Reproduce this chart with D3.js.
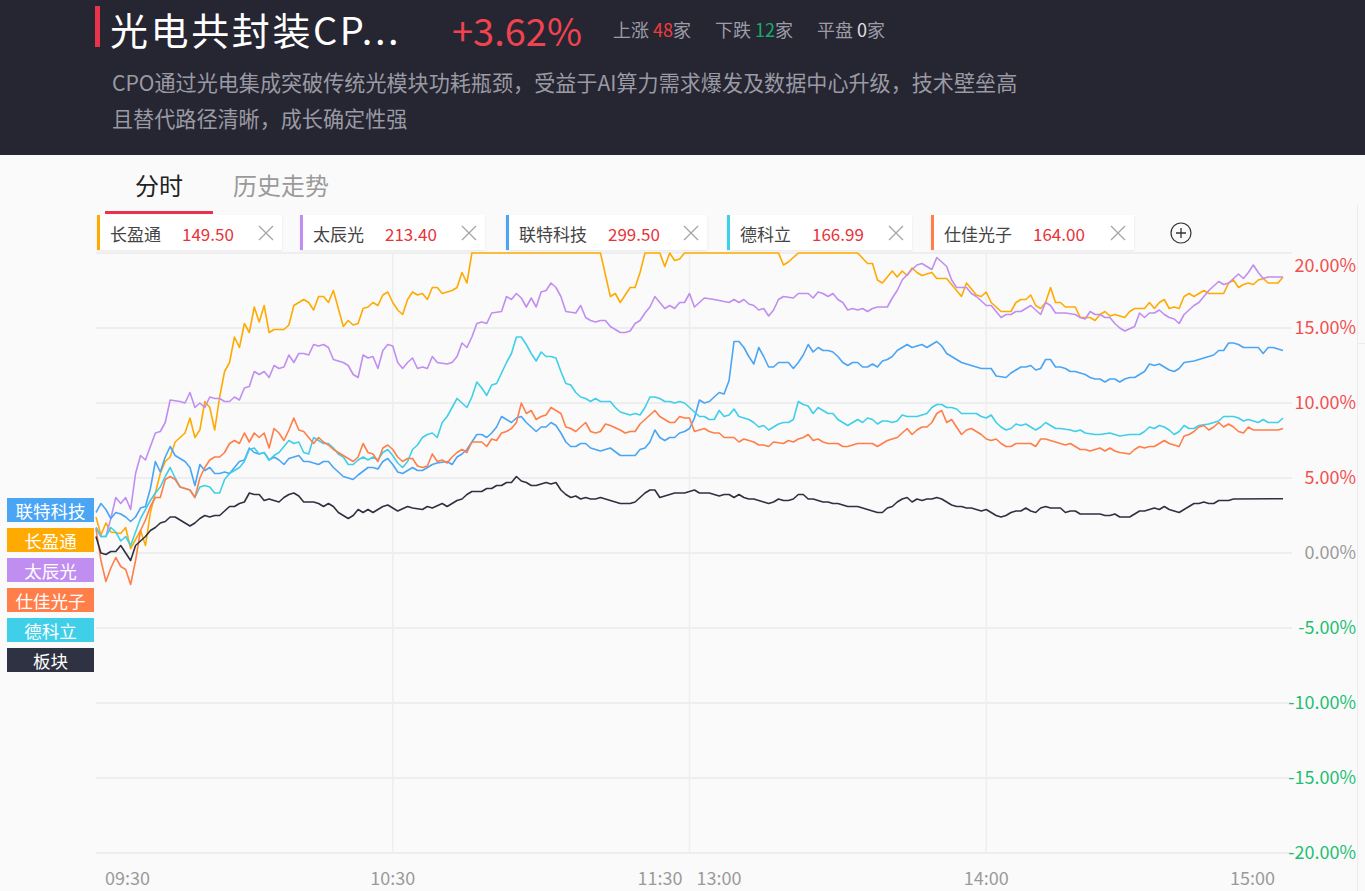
<!DOCTYPE html>
<html><head><meta charset="utf-8">
<script src="https://cdn.jsdelivr.net/npm/d3@7/dist/d3.min.js"></script>
<style>
html,body{margin:0;padding:0;background:#fafafa;}
svg{display:block;font-family:"Noto Sans CJK SC","Noto Sans",sans-serif;}
</style></head><body>
<svg id="c" width="1365" height="891"></svg>
<script>
// ---------- data ----------
const title = "光电共封装CP...";
const changeText = "+3.62%";
const description = ["CPO通过光电集成突破传统光模块功耗瓶颈，受益于AI算力需求爆发及数据中心升级，技术壁垒高","且替代路径清晰，成长确定性强"];
const stats = [["上涨","48","家"],["下跌","12","家"],["平盘","0","家"]];
const tabs = ["分时","历史走势"];
const legendNames = ["长盈通","太辰光","联特科技","德科立","仕佳光子"];
const legendPrices = ["149.50","213.40","299.50","166.99","164.00"];
const sideLabels = ["联特科技","长盈通","太辰光","仕佳光子","德科立","板块"];
const timeLabels = ["09:30","10:30","11:30","13:00","14:00","15:00"];
const timeMinutes = [0,60,120,120,180,240];
const yTicks = [-20,-15,-10,-5,0,5,10,15,20];

// series: [minute index from 09:30 (lunch removed), pct change]
const cyt = [[0,2.4],[1,1.2],[2,2.0],[3,1.4],[5,1.3],[6,1.7],[7,0.3],[8,0.9],[9,1.5],[10,0.5],[11,2.7],[12,4.0],[13,5.3],[14,6.1],[15,6.4],[16,7.4],[18,8.0],[19,9.0],[20,7.7],[21,8.2],[22,10.1],[23,9.7],[24,8.2],[25,10.4],[26,12.1],[27,12.7],[28,14.4],[29,13.7],[30,15.3],[31,14.7],[32,16.4],[33,15.4],[34,16.5],[35,14.7],[36,14.9],[38,14.9],[39,15.2],[40,16.5],[42,16.9],[43,16.7],[44,16.2],[45,17.1],[46,17.1],[47,16.7],[48,17.5],[50,15.1],[51,15.5],[52,15.2],[53,15.3],[54,16.3],[55,16.4],[56,16.7],[57,16.5],[58,17.2],[59,17.4],[60,16.7],[61,16.2],[62,15.9],[63,16.9],[64,17.4],[65,17.2],[66,17.3],[67,16.9],[68,17.7],[69,17.7],[70,17.3],[72,17.5],[73,17.7],[74,18.7],[75,18.0],[76,20],[102,20],[104,17.1],[105,17.3],[106,16.7],[107,17.2],[108,17.7],[109,17.7],[110,18.7],[111,20],[114,20],[115,19.1],[116,20],[117,19.5],[118,19.6],[119,20],[138,20],[139,19.2],[140,19.4],[142,20],[154,20],[156,19.3],[157,19.3],[158,18.2],[159,18.0],[160,18.4],[161,18.8],[162,18.4],[163,18.8],[164,18.5],[165,19.0],[166,18.7],[167,18.5],[169,18.7],[170,18.3],[172,18.3],[173,17.9],[175,17.1],[176,18.0],[177,17.6],[178,17.2],[179,17.1],[180,17.4],[181,16.7],[183,16.1],[185,16.1],[186,16.7],[187,16.9],[188,16.9],[189,17.2],[190,16.5],[191,16.3],[192,16.7],[193,17.7],[194,16.7],[195,16.7],[196,16.4],[198,16.4],[199,15.7],[201,15.7],[202,15.5],[203,15.9],[204,16.1],[205,15.8],[206,15.9],[208,15.7],[209,16.1],[210,16.3],[212,16.3],[213,16.7],[214,16.3],[215,16.7],[216,16.9],[217,16.3],[218,16.4],[219,16.3],[220,17.1],[221,17.3],[222,17.1],[223,17.3],[224,17.5],[225,17.3],[228,17.3],[229,18.0],[230,18.2],[231,17.7],[232,17.9],[233,18.0],[234,17.9],[235,18.2],[236,18.3],[237,18.0],[239,18.0],[240,18.4]];

const tcg = [[0,1.7],[1,1.1],[2,1.1],[3,2.3],[4,3.7],[5,3.3],[6,3.7],[7,2.9],[8,5.3],[9,6.5],[10,6.2],[11,7.1],[12,8.0],[13,8.1],[14,8.7],[15,10.2],[17,10.1],[18,10.0],[19,10.7],[20,9.7],[21,10.0],[22,9.7],[23,10.4],[24,10.3],[25,10.3],[26,10.1],[27,10.1],[28,10.4],[29,10.2],[30,11.0],[31,11.1],[32,12.1],[33,11.9],[34,12.1],[35,11.7],[36,12.5],[37,12.3],[38,12.4],[39,13.2],[40,12.7],[41,13.3],[42,13.3],[43,13.2],[44,13.9],[45,13.8],[46,13.9],[47,13.7],[48,12.9],[50,12.7],[51,12.5],[52,11.9],[53,11.7],[54,13.2],[55,13.0],[56,13.1],[57,12.3],[58,13.5],[59,13.9],[60,13.8],[61,12.7],[62,12.3],[63,12.7],[64,13.0],[65,12.3],[66,12.4],[67,12.3],[68,13.1],[69,12.7],[71,12.6],[72,12.7],[73,13.1],[74,14.0],[75,13.7],[76,14.4],[77,15.3],[78,15.4],[79,15.3],[80,16.0],[82,16.1],[83,17.1],[84,16.9],[85,17.3],[86,17.0],[87,16.4],[88,17.0],[89,16.4],[90,17.4],[91,17.5],[92,18.0],[93,17.7],[94,17.1],[95,16.1],[97,16.0],[98,16.5],[99,15.7],[100,15.5],[101,15.4],[102,15.5],[103,15.5],[104,15.1],[106,14.7],[107,14.7],[108,14.8],[109,15.3],[110,15.5],[111,16.0],[112,16.4],[113,17.1],[114,16.7],[115,16.3],[116,16.5],[117,16.3],[118,16.7],[119,16.7],[120,17.3],[121,16.4],[123,17.0],[125,16.9],[128,16.7],[129,16.9],[130,16.7],[131,16.9],[132,16.6],[133,16.5],[134,16.2],[135,16.3],[136,15.8],[137,16.2],[138,16.9],[139,17.1],[141,17.0],[142,17.3],[144,17.3],[145,17.0],[146,17.4],[147,17.3],[148,17.1],[149,17.3],[150,16.9],[151,16.7],[152,16.2],[153,16.3],[154,16.2],[155,16.3],[156,16.1],[157,16.3],[158,16.4],[160,16.4],[161,17.0],[162,17.5],[163,18.2],[165,18.9],[166,19.2],[167,19.3],[169,18.9],[170,19.7],[172,19.1],[173,18.2],[174,17.7],[176,17.7],[177,17.3],[178,17.1],[180,16.5],[181,16.5],[183,15.7],[184,15.9],[185,15.9],[186,16.1],[187,16.1],[189,16.5],[190,16.2],[191,15.9],[192,16.7],[193,16.5],[194,16.0],[196,16.0],[198,15.9],[199,15.7],[200,15.6],[201,16.1],[202,15.9],[203,15.9],[204,15.7],[205,15.7],[206,15.3],[207,15.0],[208,14.8],[210,15.1],[211,16.0],[212,15.7],[213,16.0],[214,16.0],[215,16.2],[216,15.9],[217,15.7],[218,15.6],[219,15.3],[220,15.9],[221,16.2],[222,16.5],[223,16.7],[224,17.1],[225,17.5],[227,18.1],[228,17.9],[229,18.0],[230,18.3],[231,18.6],[232,18.3],[233,18.7],[234,19.2],[235,18.7],[236,18.3],[237,18.4],[240,18.4]];

const ltkj = [[0,2.7],[1,3.3],[2,2.9],[3,2.3],[4,2.7],[5,2.6],[6,2.4],[7,2.1],[8,2.4],[9,3.0],[10,3.1],[11,4.3],[12,6.1],[13,5.4],[14,6.4],[15,7.1],[16,6.5],[18,6.1],[19,5.7],[20,4.5],[21,5.9],[22,5.5],[23,5.7],[24,5.3],[25,5.3],[26,5.4],[27,5.3],[28,5.7],[29,6.1],[30,6.2],[31,7.0],[32,6.7],[33,6.6],[34,6.7],[35,6.2],[36,6.4],[37,6.2],[38,5.9],[39,6.3],[40,6.4],[41,6.5],[42,6.1],[43,6.1],[44,6.0],[45,5.9],[46,6.1],[47,6.1],[48,5.7],[49,5.4],[50,5.1],[52,4.9],[53,5.2],[55,5.7],[56,5.7],[57,5.6],[58,6.1],[59,6.3],[60,5.9],[61,5.4],[62,5.3],[63,5.5],[64,5.7],[65,5.5],[66,5.5],[67,5.7],[68,5.9],[69,6.0],[71,6.1],[72,5.9],[73,6.4],[74,6.6],[75,6.9],[76,7.4],[77,7.9],[78,7.9],[79,7.7],[80,8.0],[81,8.4],[82,9.1],[83,8.9],[84,8.7],[85,9.0],[86,9.1],[87,8.7],[88,8.4],[89,8.1],[90,8.4],[91,8.4],[92,8.7],[93,8.5],[94,8.0],[95,7.4],[96,7.1],[97,7.1],[98,7.3],[99,7.3],[100,7.0],[102,6.8],[104,7.0],[106,6.5],[109,6.5],[110,6.9],[111,7.0],[112,7.4],[113,8.2],[114,7.7],[115,7.5],[116,7.7],[117,7.7],[118,8.0],[119,8.1],[120,8.3],[121,9.0],[122,10.2],[123,10.0],[124,10.1],[125,10.4],[126,10.7],[127,10.6],[128,11.5],[129,14.1],[130,14.1],[131,13.7],[132,13.1],[133,12.6],[134,13.7],[135,13.1],[136,12.4],[137,12.4],[138,12.7],[139,12.7],[140,12.7],[141,12.3],[142,12.7],[143,13.2],[144,13.9],[145,13.4],[146,13.7],[147,13.5],[148,13.5],[149,13.4],[150,13.1],[151,12.7],[152,12.5],[153,12.7],[154,12.7],[155,12.4],[156,12.4],[157,12.6],[158,12.4],[159,12.8],[160,12.9],[161,13.1],[162,13.5],[163,13.7],[164,13.9],[165,13.7],[166,13.8],[167,13.9],[168,13.7],[169,13.9],[170,14.1],[171,13.8],[172,13.3],[173,13.1],[174,12.9],[175,12.7],[177,12.5],[178,12.4],[179,12.3],[181,12.3],[182,11.8],[184,11.7],[185,12.0],[187,12.4],[188,12.4],[189,12.5],[190,12.2],[191,12.3],[192,12.9],[193,12.9],[194,12.4],[195,12.4],[196,12.3],[197,12.1],[198,12.1],[199,12.0],[200,11.9],[201,11.7],[202,11.6],[203,11.6],[204,11.4],[205,11.6],[206,11.6],[207,11.4],[208,11.6],[209,11.7],[210,11.7],[211,11.9],[212,12.1],[213,12.6],[214,12.5],[215,12.6],[216,12.4],[217,12.2],[218,12.1],[219,12.3],[220,12.7],[222,12.8],[223,12.9],[224,13.0],[226,13.2],[227,13.5],[228,13.5],[229,14.0],[230,14.0],[231,13.9],[232,13.7],[233,13.7],[235,13.7],[236,13.3],[237,13.7],[238,13.7],[240,13.5]];

const dkl = [[0,1.7],[1,1.1],[2,1.1],[3,1.7],[4,1.4],[5,0.8],[6,1.1],[7,0.5],[8,1.4],[9,2.3],[10,2.9],[11,3.5],[12,4.0],[13,4.4],[14,5.1],[15,5.7],[16,5.0],[17,4.4],[18,4.3],[19,4.2],[20,3.7],[21,4.4],[22,4.5],[23,4.4],[24,4.0],[25,4.0],[26,4.9],[27,5.3],[28,5.5],[29,5.7],[30,6.1],[31,6.9],[32,7.0],[33,6.6],[34,6.7],[35,6.2],[36,6.5],[37,6.7],[38,7.1],[39,7.5],[40,7.3],[41,7.4],[42,6.7],[43,6.6],[44,7.7],[45,7.5],[46,7.3],[47,7.3],[48,7.0],[49,6.6],[50,6.4],[51,5.9],[52,5.9],[53,6.2],[54,6.4],[55,6.2],[56,6.4],[57,6.2],[58,6.7],[59,6.9],[60,6.5],[61,6.0],[62,5.7],[63,6.1],[64,6.9],[65,7.2],[66,7.7],[67,7.9],[68,8.0],[69,7.7],[70,8.7],[71,9.1],[72,9.7],[73,10.3],[74,10.0],[75,9.7],[76,10.4],[77,11.4],[78,11.0],[79,10.5],[80,11.2],[81,11.3],[82,12.0],[83,12.7],[84,13.3],[85,14.4],[86,14.4],[87,13.9],[88,13.3],[89,12.8],[90,13.4],[91,13.1],[92,13.1],[93,13.0],[94,12.1],[95,11.3],[96,11.2],[97,10.7],[98,10.4],[99,10.3],[100,10.1],[101,10.3],[102,10.1],[104,10.1],[105,9.7],[106,9.4],[108,9.2],[109,9.3],[110,9.2],[111,9.7],[112,10.4],[113,10.4],[114,10.3],[115,10.1],[116,10.1],[117,10.0],[118,10.1],[119,10.0],[120,9.7],[121,9.4],[122,9.1],[123,9.1],[124,8.9],[125,8.9],[126,9.5],[127,9.1],[128,9.2],[129,9.6],[130,9.1],[131,9.0],[132,8.9],[133,8.7],[134,8.4],[135,8.5],[136,8.2],[137,8.4],[138,8.6],[139,8.7],[140,8.7],[141,8.9],[142,10.1],[143,9.9],[144,9.8],[145,9.3],[146,9.7],[147,9.5],[148,9.3],[149,9.3],[150,8.9],[151,8.7],[152,8.5],[153,8.7],[154,8.9],[155,8.7],[156,9.0],[157,8.9],[158,8.6],[159,8.8],[160,8.8],[161,8.7],[162,8.8],[163,9.2],[164,9.1],[165,9.1],[166,9.1],[167,9.2],[168,9.3],[169,9.7],[170,9.9],[171,9.9],[172,9.7],[173,9.7],[174,9.6],[175,9.3],[178,9.3],[179,9.1],[180,9.0],[181,9.2],[182,8.7],[183,8.4],[184,8.2],[185,8.3],[186,8.6],[187,8.5],[188,8.6],[189,8.4],[190,8.2],[191,8.4],[192,8.7],[194,8.3],[195,8.3],[197,8.2],[198,8.1],[199,8.2],[200,8.0],[202,7.9],[203,7.9],[205,8.0],[207,7.8],[209,7.9],[211,7.9],[212,8.1],[213,8.4],[214,8.3],[215,8.5],[216,8.4],[217,8.2],[218,7.9],[219,8.1],[220,8.5],[221,8.3],[222,8.3],[223,8.5],[225,8.6],[227,8.8],[228,9.1],[230,9.1],[231,9.0],[232,8.8],[233,8.9],[235,8.7],[236,8.9],[237,8.7],[239,8.7],[240,9.0]];

const sjgz = [[0,1.6],[1,-0.5],[2,-1.9],[3,-1.0],[4,-0.3],[5,-0.9],[6,-1.1],[7,-2.1],[8,-0.5],[9,1.5],[10,2.2],[11,3.1],[12,3.7],[13,3.7],[14,4.9],[15,5.1],[16,4.9],[17,4.4],[18,4.3],[19,4.2],[20,3.7],[21,5.0],[22,5.7],[23,6.2],[24,6.4],[25,6.4],[26,6.7],[27,7.3],[28,7.5],[29,7.3],[30,8.0],[31,7.4],[32,8.0],[33,7.7],[34,8.0],[35,7.0],[36,8.3],[37,8.0],[38,7.5],[39,8.2],[40,9.0],[41,8.2],[42,8.1],[43,7.7],[44,7.3],[45,7.7],[46,7.4],[47,7.2],[48,6.9],[49,6.7],[50,6.5],[51,6.3],[52,6.1],[53,6.4],[54,7.3],[55,6.7],[56,6.6],[57,6.1],[58,7.0],[59,7.2],[60,6.9],[61,6.4],[62,6.1],[63,6.3],[64,6.3],[65,5.8],[66,5.7],[67,5.8],[68,6.6],[69,6.1],[70,6.2],[71,6.0],[72,6.4],[73,6.7],[74,6.9],[75,6.7],[76,7.4],[77,7.4],[78,7.4],[79,7.1],[80,7.6],[81,7.5],[82,8.0],[83,8.1],[84,8.3],[85,8.7],[86,10.0],[87,9.3],[88,9.5],[89,8.9],[90,9.1],[91,9.2],[92,9.7],[93,9.5],[94,9.3],[95,8.4],[96,8.3],[97,8.1],[98,8.4],[99,8.7],[100,8.1],[101,8.0],[102,8.1],[103,8.6],[104,8.5],[106,8.2],[107,8.0],[108,8.1],[109,8.1],[110,8.6],[111,8.9],[112,9.2],[113,9.5],[114,9.1],[115,8.9],[116,8.7],[117,8.7],[118,9.1],[119,9.0],[120,9.0],[121,8.1],[122,8.2],[123,8.3],[124,8.1],[125,8.0],[126,8.0],[127,7.7],[129,7.7],[130,7.4],[131,7.6],[132,7.5],[133,7.4],[134,7.2],[135,7.2],[136,7.1],[137,7.4],[139,7.3],[140,7.5],[141,7.4],[142,7.6],[143,7.7],[144,7.9],[145,7.5],[146,7.6],[147,7.4],[148,7.3],[150,7.3],[151,7.1],[152,7.1],[153,7.2],[154,7.3],[157,7.3],[158,7.1],[159,7.3],[160,7.5],[161,7.6],[162,7.7],[163,8.0],[164,8.3],[165,7.9],[166,8.2],[167,8.4],[168,8.4],[169,8.7],[170,9.3],[171,9.5],[172,8.7],[173,8.9],[174,8.4],[175,7.9],[176,8.2],[177,8.3],[178,8.1],[179,7.9],[180,7.6],[181,7.5],[182,7.6],[183,7.3],[184,7.1],[185,7.1],[186,7.3],[189,7.3],[190,7.1],[191,7.6],[192,7.6],[194,7.4],[195,7.3],[196,7.2],[197,7.3],[198,7.1],[199,6.9],[200,6.9],[201,6.8],[202,6.9],[203,7.0],[204,6.8],[205,7.0],[206,6.8],[207,6.7],[209,6.6],[210,6.9],[211,7.1],[212,7.0],[213,7.1],[214,7.1],[215,7.3],[216,7.5],[217,7.3],[218,7.2],[219,7.1],[220,7.8],[221,7.9],[222,8.1],[223,8.4],[224,8.5],[225,8.2],[226,8.4],[227,8.7],[228,8.4],[229,8.6],[230,8.4],[231,8.1],[232,8.0],[233,8.4],[234,8.2],[236,8.2],[239,8.2],[240,8.3]];

const sector = [[0,1.1],[1,0.0],[2,-0.1],[3,0.1],[4,0.1],[5,0.5],[6,0.0],[7,-0.5],[8,0.5],[9,0.8],[10,1.1],[11,1.5],[12,1.7],[13,2.0],[14,2.1],[15,2.4],[16,2.4],[17,2.2],[18,2.0],[19,1.8],[20,2.0],[21,2.3],[22,2.5],[23,2.4],[24,2.5],[25,2.5],[26,2.8],[27,3.1],[28,3.1],[29,3.3],[30,3.4],[31,4.0],[32,3.9],[33,3.9],[34,3.5],[35,3.6],[36,3.5],[37,3.4],[38,3.7],[39,3.9],[40,4.0],[41,3.8],[42,3.4],[44,3.4],[45,3.3],[46,3.1],[47,3.3],[48,3.1],[49,2.7],[50,2.5],[51,2.3],[52,2.5],[53,2.9],[54,2.7],[55,2.9],[56,2.7],[57,2.9],[58,3.1],[59,3.2],[60,3.0],[61,2.8],[63,3.1],[64,3.0],[66,2.9],[67,3.1],[68,3.0],[70,3.3],[71,3.1],[72,3.3],[73,3.5],[74,3.6],[75,3.9],[76,4.1],[78,4.1],[79,4.3],[80,4.3],[81,4.5],[82,4.5],[83,4.7],[84,4.7],[85,5.1],[86,4.8],[87,4.7],[88,4.5],[89,4.5],[90,4.6],[91,4.7],[92,4.6],[93,4.7],[94,4.2],[95,3.9],[96,3.7],[97,3.8],[98,3.6],[99,3.7],[100,3.6],[101,3.6],[102,3.7],[103,3.6],[104,3.5],[105,3.4],[106,3.3],[108,3.3],[109,3.4],[110,3.7],[111,4.0],[112,4.2],[113,4.2],[114,3.7],[115,3.8],[116,3.9],[117,4.0],[119,4.0],[120,4.1],[121,4.2],[122,4.0],[124,4.0],[125,3.9],[126,3.8],[127,3.9],[128,3.9],[129,3.7],[130,3.9],[131,3.7],[132,3.6],[133,3.6],[134,3.5],[135,3.4],[136,3.3],[137,3.4],[138,3.6],[139,3.5],[140,3.5],[141,3.6],[142,3.9],[143,3.9],[144,3.6],[145,3.6],[146,3.5],[147,3.4],[148,3.4],[149,3.3],[150,3.3],[151,3.2],[152,3.1],[154,3.1],[155,3.0],[156,2.9],[157,2.8],[158,2.7],[159,2.7],[160,3.0],[161,3.1],[162,3.4],[163,3.6],[164,3.7],[165,3.4],[166,3.6],[167,3.5],[168,3.6],[169,3.6],[170,3.7],[171,3.6],[172,3.4],[173,3.2],[174,3.1],[175,3.1],[176,3.0],[177,3.0],[178,2.9],[179,2.8],[180,2.9],[181,2.7],[182,2.5],[183,2.4],[184,2.5],[185,2.7],[186,2.8],[187,2.8],[188,3.0],[189,2.8],[190,2.7],[191,3.0],[192,3.1],[193,3.0],[195,3.0],[196,2.7],[197,2.8],[198,2.8],[199,2.6],[203,2.6],[204,2.5],[205,2.5],[206,2.6],[207,2.4],[209,2.4],[210,2.6],[211,2.8],[212,2.8],[213,2.9],[214,3.0],[215,2.9],[216,3.1],[217,2.9],[218,2.8],[219,2.7],[220,2.9],[221,3.1],[222,3.3],[223,3.3],[224,3.4],[225,3.3],[226,3.3],[227,3.5],[229,3.5],[230,3.6],[240,3.62]];

const seriesData = [cyt, tcg, ltkj, dkl, sjgz, sector];
const seriesColors = ["#ffaa00","#c08ef0","#4aa5f5","#3fcfe9","#ff7e4a","#2e3140"];
const legendColors = ["#ffaa00","#c08ef0","#4aa5f5","#3fcfe9","#ff7e4a"];
const sideColors = ["#4aa5f5","#ffaa00","#c08ef0","#ff7e4a","#3fcfe9","#2f3242"];

// ---------- drawing ----------
const svg = d3.select("#c");
const FONT = '"Noto Sans CJK SC","Noto Sans",sans-serif';

// header
svg.append("rect").attr("x",0).attr("y",0).attr("width",1365).attr("height",155).attr("fill","#262532");
svg.append("rect").attr("x",95).attr("y",6).attr("width",5).attr("height",41).attr("fill","#e8334a");
svg.append("text").attr("x",110).attr("y",44.5)
  .attr("font-size",38).attr("letter-spacing",2.6).attr("fill","#ffffff").text(title);
svg.append("text").attr("x",452).attr("y",29).attr("dominant-baseline","central")
  .attr("font-size",38).attr("fill","#f0434f").text(changeText);
const statColors = ["#f03c3c","#1aab6a","#e0e0e0"];
const statX = [613,715,817];
stats.forEach((s,i)=>{
  const t = svg.append("text").attr("x",statX[i]).attr("y",29).attr("dominant-baseline","central")
    .attr("font-size",18).attr("fill","#9c9ca6");
  t.append("tspan").text(s[0]+" ");
  t.append("tspan").attr("fill",statColors[i]).text(s[1]);
  t.append("tspan").text(s[2]);
});
description.forEach((d,i)=>{
  svg.append("text").attr("x",112).attr("y",82+i*36).attr("dominant-baseline","central")
    .attr("font-size",21.1).attr("fill","#9a9aa3").text(d);
});

// tabs
svg.append("text").attr("x",135).attr("y",184).attr("dominant-baseline","central")
  .attr("font-size",24).attr("fill","#222").text(tabs[0]);
svg.append("text").attr("x",233).attr("y",184).attr("dominant-baseline","central")
  .attr("font-size",24).attr("fill","#9a9a9a").text(tabs[1]);
svg.append("rect").attr("x",105).attr("y",211).attr("width",108).attr("height",3).attr("fill","#e8334a");

// legend chips
const defs = svg.append("defs");
const f = defs.append("filter").attr("id","sh").attr("x","-5%").attr("y","-20%").attr("width","110%").attr("height","150%");
f.append("feDropShadow").attr("dx",0).attr("dy",1).attr("stdDeviation",1.2).attr("flood-color","#000").attr("flood-opacity",0.08);
const chipX = [97,300,506,727,931];
const chipW = [185,185,201,185,203];
legendNames.forEach((n,i)=>{
  const g = svg.append("g").attr("transform",`translate(${chipX[i]},215)`);
  g.append("rect").attr("width",chipW[i]).attr("height",35).attr("fill","#fff").attr("filter","url(#sh)");
  g.append("rect").attr("width",3).attr("height",35).attr("fill",legendColors[i]);
  const nt = g.append("text").attr("x",13).attr("y",18.5).attr("dominant-baseline","central")
    .attr("font-size",17).attr("fill","#444").text(n);
  const w = nt.node().getComputedTextLength();
  g.append("text").attr("x",13+w+21).attr("y",18.5).attr("dominant-baseline","central")
    .attr("font-size",17).attr("fill","#e8333a").text(legendPrices[i]);
  const cx = chipW[i]-16, cy = 18;
  g.append("path").attr("d",`M${cx-7},${cy-7}L${cx+7},${cy+7}M${cx+7},${cy-7}L${cx-7},${cy+7}`)
    .attr("stroke","#a5a5a5").attr("stroke-width",1.3).attr("fill","none");
});
svg.append("circle").attr("cx",1181).attr("cy",233).attr("r",10).attr("fill","none").attr("stroke","#333").attr("stroke-width",1.2);
svg.append("path").attr("d","M1176,233H1186M1181,228V238").attr("stroke","#333").attr("stroke-width",1.3);

// right border line
svg.append("line").attr("x1",1357.5).attr("x2",1357.5).attr("y1",205).attr("y2",891).attr("stroke","#ececec");
svg.append("line").attr("x1",1357).attr("x2",1365).attr("y1",343.5).attr("y2",343.5).attr("stroke","#ececec");

// scales
const x = d3.scaleLinear().domain([0,240]).range([96,1283]);
const y = d3.scaleLinear().domain([-20,20]).range([853,253]);

// grid
const grid = svg.append("g");
grid.selectAll("line.h").data(yTicks).join("line")
  .attr("x1",96).attr("x2",1292).attr("y1",d=>y(d)).attr("y2",d=>y(d))
  .attr("stroke","#eeeeee").attr("stroke-width",2);
grid.selectAll("line.v").data([60,120,180]).join("line")
  .attr("x1",d=>x(d)).attr("x2",d=>x(d)).attr("y1",y(20)).attr("y2",y(-20))
  .attr("stroke","#eeeeee").attr("stroke-width",1.5);

// y axis labels
const yAxis = d3.axisLeft(y).tickValues(yTicks).tickSize(0).tickPadding(0)
  .tickFormat(d=>d.toFixed(2)+"%");
const ya = svg.append("g").attr("transform","translate(1356,0)").call(yAxis);
ya.select(".domain").remove();
ya.selectAll("text").attr("font-family",FONT).attr("font-size",18)
  .attr("fill",d=>d>0?"#f25050":(d<0?"#1fbf73":"#9a9a9a"))
  .attr("dy",d=>d===20?"1.05em":"0.32em");

// x labels
const anchors = ["start","middle","end","start","middle","end"];
const offs = [9,0,-7,7,0,-8];
svg.selectAll("text.xl").data(timeLabels).join("text")
  .attr("x",(d,i)=>x(timeMinutes[i])+offs[i]).attr("y",877).attr("dominant-baseline","central")
  .attr("text-anchor",(d,i)=>anchors[i]).attr("font-size",18).attr("fill","#9a9a9a").text(d=>d);

// lines
const line = d3.line().x(d=>x(d[0])).y(d=>y(d[1]));
const lg = svg.append("g").attr("fill","none").attr("stroke-width",1.6).attr("stroke-linejoin","round");
seriesData.forEach((s,i)=>{
  lg.append("path").attr("d",line(s)).attr("stroke",seriesColors[i]);
});

// side labels
sideLabels.forEach((n,i)=>{
  const top = 498+i*30;
  svg.append("rect").attr("x",7).attr("y",top).attr("width",87).attr("height",24).attr("fill",sideColors[i]);
  svg.append("text").attr("x",50.5).attr("y",top+12.5).attr("text-anchor","middle").attr("dominant-baseline","central")
    .attr("font-size",17.5).attr("fill","#fff").text(n);
});
</script>
</body></html>
